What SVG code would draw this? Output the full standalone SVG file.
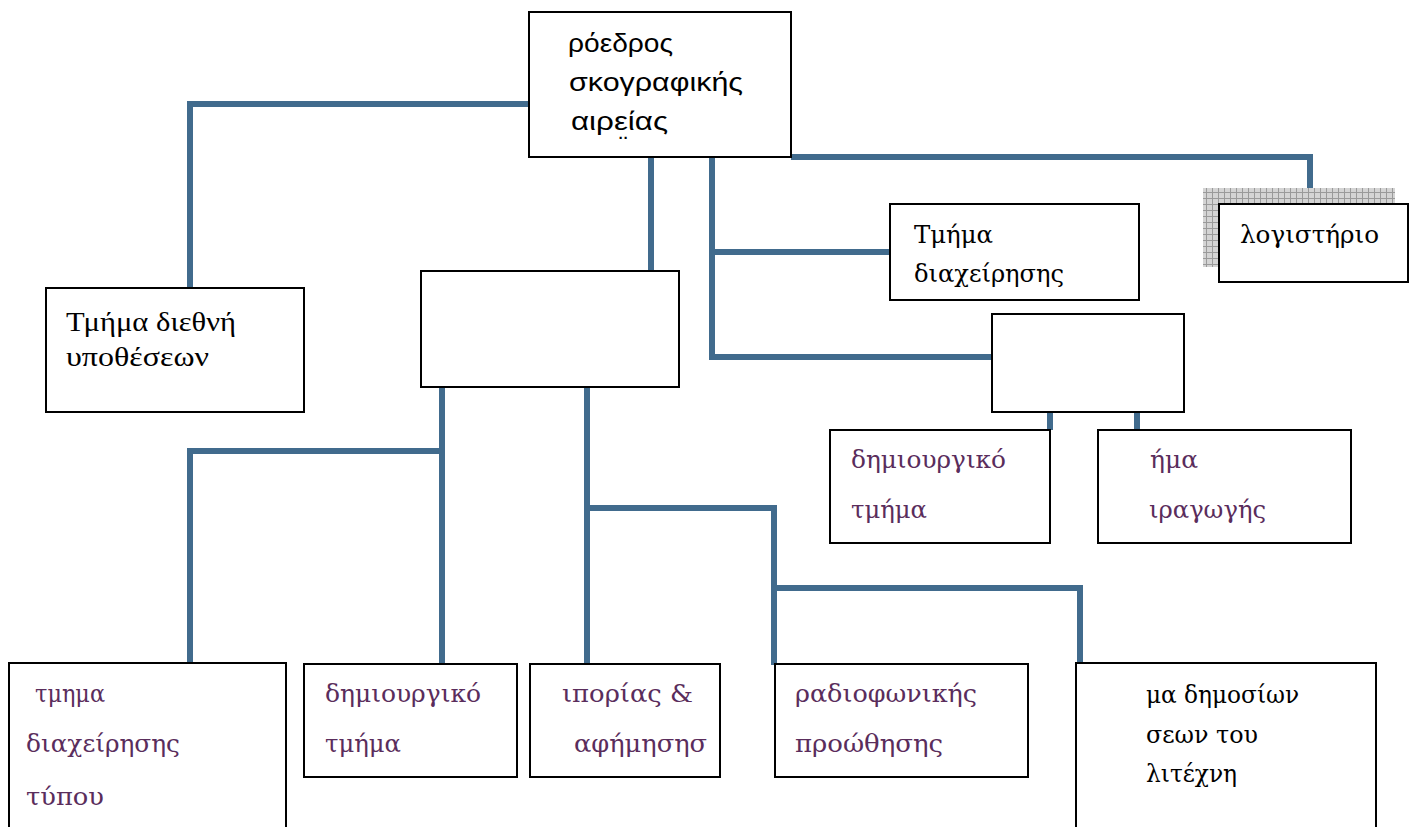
<svg xmlns="http://www.w3.org/2000/svg" width="1411" height="827" viewBox="0 0 1411 827">
<style>
.box{fill:#fff;stroke:#000;stroke-width:2}
.con{fill:none;stroke:#416b8d;stroke-width:6}
.t{font-family:"DejaVu Serif","Liberation Serif",serif;font-size:24px}
.tr{font-family:"Liberation Serif","DejaVu Serif",serif;font-size:27px;fill:#000}
.p{fill:#5a2d5c}
.k{fill:#000}
.s{font-family:"Liberation Sans",Arial,sans-serif;font-size:26px;fill:#000}
</style>
<defs>
<pattern id="grid" width="6" height="6" patternUnits="userSpaceOnUse">
<rect width="6" height="6" fill="#d4d4d4"/>
<path d="M0,0.5H6M0.5,0V6" stroke="#9a9a9a" stroke-width="1"/>
</pattern>
</defs>
<rect width="1411" height="827" fill="#fff"/>
<g id="connectors">
<path class="con" d="M529,104H190V288"/>
<path class="con" d="M651,157V271"/>
<path class="con" d="M712,157V357H992M712,252H890"/>
<path class="con" d="M791,157H1310V204"/>
<path class="con" d="M442,387V665M442,451H190V663"/>
<path class="con" d="M587,387V665M587,508H774V665M774,588H1080V665"/>
<path class="con" d="M1050,412V430M1137,412V430"/>
</g>
<g id="president">
<rect class="box" x="529" y="12" width="262" height="145"/>
<text class="s" x="568" y="52" textLength="105" lengthAdjust="spacingAndGlyphs">ρόεδρος</text>
<text class="s" x="569" y="91" textLength="174" lengthAdjust="spacingAndGlyphs">σκογραφικής</text>
<text class="s" x="571" y="130" textLength="97" lengthAdjust="spacingAndGlyphs">αιρείας</text>
<text class="s" x="619" y="155" font-size="9">¨</text>
</g>
<g id="middle">
<rect class="box" x="421" y="271" width="258" height="116"/>
</g>
<g id="intl">
<rect class="box" x="46" y="288" width="258" height="124"/>
<text class="tr" x="66" y="331" textLength="170" lengthAdjust="spacingAndGlyphs">Τμήμα διεθνή</text>
<text class="tr" x="66" y="366" textLength="143" lengthAdjust="spacingAndGlyphs">υποθέσεων</text>
</g>
<g id="management">
<rect class="box" x="890" y="204" width="249" height="96"/>
<text class="t k" x="914" y="243" textLength="79" lengthAdjust="spacingAndGlyphs">Τμήμα</text>
<text class="t k" x="914" y="282" textLength="150" lengthAdjust="spacingAndGlyphs">διαχείρησης</text>
</g>
<g id="accounting">
<rect x="1203" y="188" width="192" height="79" fill="url(#grid)"/>
<rect class="box" x="1219" y="204" width="189" height="78"/>
<text class="t k" x="1240" y="243" textLength="139" lengthAdjust="spacingAndGlyphs">λογιστήριο</text>
</g>
<g id="empty2">
<rect class="box" x="992" y="314" width="192" height="98"/>
</g>
<g id="creative-right">
<rect class="box" x="830" y="430" width="220" height="113"/>
<text class="t p" x="851" y="468" textLength="155" lengthAdjust="spacingAndGlyphs">δημιουργικό</text>
<text class="t p" x="851" y="518" textLength="76" lengthAdjust="spacingAndGlyphs">τμήμα</text>
</g>
<g id="production">
<rect class="box" x="1098" y="430" width="253" height="113"/>
<text class="t p" x="1150" y="468" textLength="48" lengthAdjust="spacingAndGlyphs">ήμα</text>
<text class="t p" x="1149" y="518" textLength="117" lengthAdjust="spacingAndGlyphs">ιραγωγής</text>
</g>
<g id="press">
<rect class="box" x="9" y="663" width="277" height="180"/>
<text class="t p" x="35" y="702" textLength="70" lengthAdjust="spacingAndGlyphs">τμημα</text>
<text class="t p" x="26" y="752" textLength="154" lengthAdjust="spacingAndGlyphs">διαχείρησης</text>
<text class="t p" x="26" y="805" textLength="78" lengthAdjust="spacingAndGlyphs">τύπου</text>
</g>
<g id="creative-bottom">
<rect class="box" x="304" y="664" width="213" height="113"/>
<text class="t p" x="325" y="702" textLength="156" lengthAdjust="spacingAndGlyphs">δημιουργικό</text>
<text class="t p" x="325" y="752" textLength="76" lengthAdjust="spacingAndGlyphs">τμήμα</text>
</g>
<g id="marketing">
<rect class="box" x="530" y="664" width="190" height="113"/>
<text class="t p" x="562" y="702" textLength="131" lengthAdjust="spacingAndGlyphs">ιπορίας &amp;</text>
<text class="t p" x="574" y="752" textLength="133" lengthAdjust="spacingAndGlyphs">αφήμησησ</text>
</g>
<g id="radio">
<rect class="box" x="775" y="664" width="253" height="113"/>
<text class="t p" x="795" y="702" textLength="182" lengthAdjust="spacingAndGlyphs">ραδιοφωνικής</text>
<text class="t p" x="795" y="752" textLength="148" lengthAdjust="spacingAndGlyphs">προώθησης</text>
</g>
<g id="pr">
<rect class="box" x="1076" y="663" width="300" height="180"/>
<text class="t k" x="1146" y="703" textLength="153" lengthAdjust="spacingAndGlyphs">μα δημοσίων</text>
<text class="t k" x="1146" y="743" textLength="112" lengthAdjust="spacingAndGlyphs">σεων του</text>
<text class="t k" x="1146" y="782" textLength="91" lengthAdjust="spacingAndGlyphs">λιτέχνη</text>
</g>
</svg>
